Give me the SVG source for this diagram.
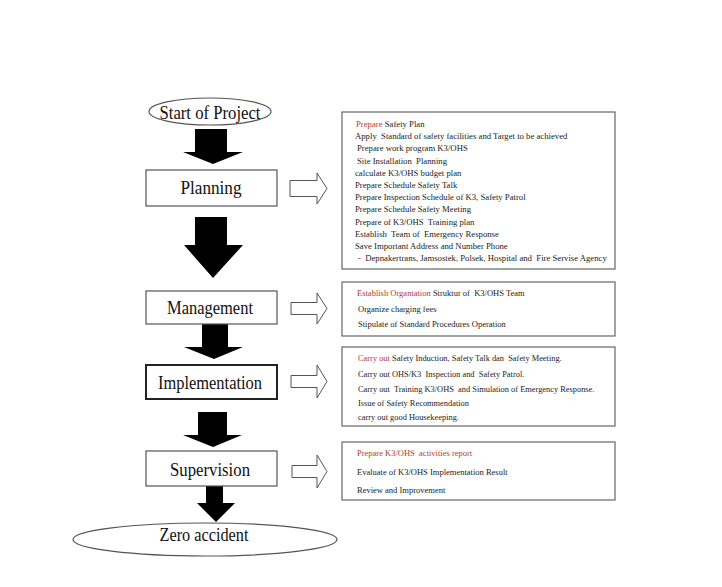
<svg xmlns="http://www.w3.org/2000/svg" width="722" height="587" viewBox="0 0 722 587">
<style>
.bg{fill:#fff}
.nb{fill:#fff;stroke:#555;stroke-width:1.2}
.nbb{fill:#fff;stroke:#222;stroke-width:2}
.lbl{font-family:"Liberation Serif","Times New Roman",serif;font-size:19px;fill:#111;text-anchor:middle}
.box{fill:#fff;stroke:#666;stroke-width:1.2}
.t{font-family:"Liberation Serif","Times New Roman",serif;font-size:8.7px;fill:#222}
.s{font-size:8.4px}
.u{font-size:8.5px}
.r{fill:#b03a3a}
.ba{fill:#000}
.ha{fill:#fff;stroke:#555;stroke-width:1}
</style>
<rect class="bg" x="0" y="0" width="722" height="587"/>

<g id="connectors">
  <path class="ba" d="M195,129 H227 V152 H243 L213,164 L183,152 H195 Z"/>
  <path class="ba" d="M195,217 H227 V245 H243 L213,278 L184,245 H195 Z"/>
  <path class="ba" d="M202,324 H228 V347 H243 L214,359 L184,347 H202 Z"/>
  <path class="ba" d="M198,412 H227 V435 H242 L213,447 L183,435 H198 Z"/>
  <path class="ba" d="M206,486 H223 V503 H235 L216,522 L197,503 H206 Z"/>
  <path class="ha" d="M290,180.5 H317 V173 L327,188.5 L317,204 V196.5 H290 Z"/>
  <path class="ha" d="M291,302.5 H317 V293 L327,308.5 L317,324 V314.5 H291 Z"/>
  <path class="ha" d="M291,375.5 H317 V365 L327,381.5 L317,398 V387.5 H291 Z"/>
  <path class="ha" d="M292,465.5 H317 V455 L327,471.5 L317,488 V477.5 H292 Z"/>
</g>

<g id="start">
  <ellipse class="nb" cx="210" cy="111.5" rx="61" ry="13.5"/>
  <text class="lbl" x="210" y="118.5" textLength="101" lengthAdjust="spacingAndGlyphs">Start of Project</text>
</g>
<g id="planning">
  <rect class="nb" x="146" y="170" width="131" height="36"/>
  <text class="lbl" x="211" y="194" textLength="61" lengthAdjust="spacingAndGlyphs">Planning</text>
</g>
<g id="management">
  <rect class="nb" x="146" y="291" width="131" height="33"/>
  <text class="lbl" x="210" y="314" textLength="86" lengthAdjust="spacingAndGlyphs">Management</text>
</g>
<g id="implementation">
  <rect class="nbb" x="146" y="365" width="131" height="34"/>
  <text class="lbl" x="210" y="389" textLength="104" lengthAdjust="spacingAndGlyphs">Implementation</text>
</g>
<g id="supervision">
  <rect class="nb" x="146" y="451" width="131" height="35"/>
  <text class="lbl" x="210" y="476" textLength="80" lengthAdjust="spacingAndGlyphs">Supervision</text>
</g>
<g id="zero">
  <ellipse class="nb" cx="205" cy="539.5" rx="132" ry="16.5"/>
  <text class="lbl" x="204" y="541" textLength="89" lengthAdjust="spacingAndGlyphs">Zero accident</text>
</g>

<g id="planning-details">
  <rect class="box" x="342" y="112" width="273" height="157"/>
  <text class="t" y="127"><tspan x="356" class="r">Prepare</tspan><tspan> Safety Plan</tspan></text>
  <text class="t" x="355" y="139.2" xml:space="preserve">Apply  Standard of safety facilities and Target to be achieved</text>
  <text class="t" x="357" y="151.4">Prepare work program K3/OHS</text>
  <text class="t" x="357" y="163.6" xml:space="preserve">Site Installation  Planning</text>
  <text class="t" x="355" y="175.8">calculate K3/OHS budget plan</text>
  <text class="t" x="355" y="188">Prepare Schedule Safety Talk</text>
  <text class="t" x="355" y="200.2">Prepare Inspection Schedule of K3, Safety Patrol</text>
  <text class="t" x="355" y="212.4">Prepare Schedule Safety Meeting</text>
  <text class="t" x="355" y="224.6" xml:space="preserve">Prepare of K3/OHS  Training plan</text>
  <text class="t" x="355" y="236.8" xml:space="preserve">Establish  Team of  Emergency Response</text>
  <text class="t" x="355" y="249">Save Important Address and Number Phone</text>
  <text class="t" x="358" y="261.2" xml:space="preserve">-  Depnakertrans, Jamsostek, Polsek, Hospital and  Fire Servise Agency</text>
</g>

<g id="management-details">
  <rect class="box" x="342" y="282" width="273" height="54"/>
  <text class="t u" y="296"><tspan x="357" class="r">Establish Organtation</tspan><tspan xml:space="preserve"> Struktur of  K3/OHS Team</tspan></text>
  <text class="t u" x="358" y="312">Organize charging fees</text>
  <text class="t u" x="358" y="327">Stipulate of Standard Procedures Operation</text>
</g>

<g id="implementation-details">
  <rect class="box" x="342" y="347" width="273" height="79"/>
  <text class="t s" y="361"><tspan x="358" class="r">Carry out</tspan><tspan xml:space="preserve"> Safety Induction, Safety Talk dan  Safety Meeting.</tspan></text>
  <text class="t s" x="358" y="376.5" xml:space="preserve">Carry out OHS/K3  Inspection and  Safety Patrol.</text>
  <text class="t s" x="358" y="391.5" xml:space="preserve">Carry out  Training K3/OHS  and Simulation of Emergency Response.</text>
  <text class="t s" x="358" y="405.5">Issue of Safety Recommendation</text>
  <text class="t s" x="358" y="419.5">carry out good Housekeeping.</text>
</g>

<g id="supervision-details">
  <rect class="box" x="342" y="442" width="273" height="58"/>
  <text class="t u r" x="357" y="456" xml:space="preserve">Prepare K3/OHS  activities report</text>
  <text class="t u" x="357" y="475">Evaluate of K3/OHS Implementation Result</text>
  <text class="t u" x="357" y="493">Review and Improvement</text>
</g>
</svg>
